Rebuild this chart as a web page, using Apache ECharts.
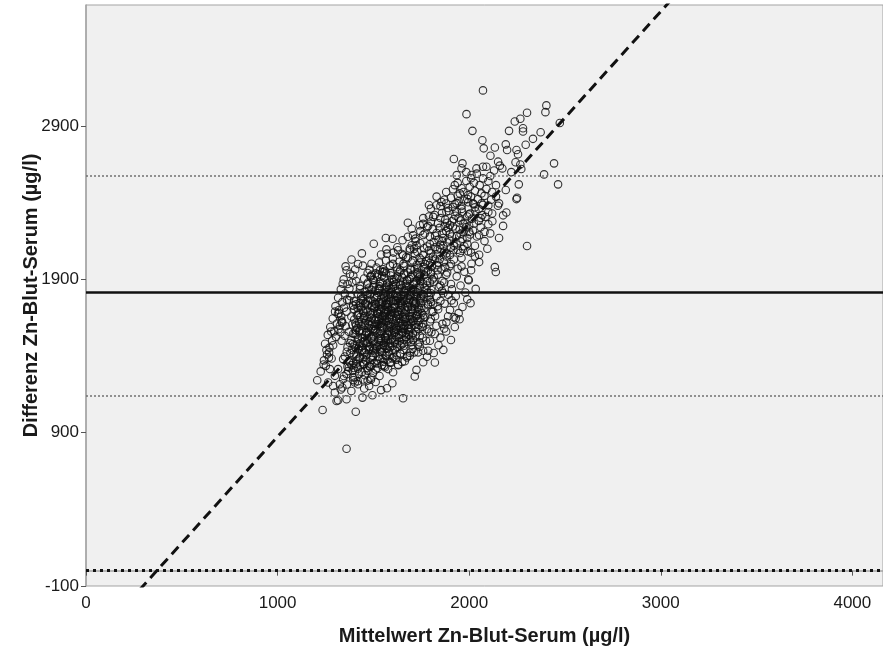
<!DOCTYPE html>
<html>
<head>
<meta charset="utf-8">
<script src="https://cdn.jsdelivr.net/npm/echarts@6/dist/echarts.min.js"></script>
<style>
  html, body { margin: 0; padding: 0; background: #ffffff; }
  #chart { width: 883px; height: 655px; }
</style>
</head>
<body>
<div id="chart"></div>
<script>
// Bland-Altman plot: zinc whole blood vs. serum (µg/l)
const xTicks = [0, 1000, 2000, 3000, 4000];
const yTicks = [-100, 900, 1900, 2900];
const xRange = [0, 4160];
const yRange = [-100, 3690];

// reference lines (µg/l)
const meanDifference = 1815;
const upperLimit = 2578;
const lowerLimit = 1140;
const zeroLine = 0;

// regression of difference on mean
const regressionSlope = 1.387;
const regressionIntercept = -513;

// [mean, difference] per sample
const outerPoints = [
  [2072,3133],[1986,2978],[2017,2869],[2403,3035],[2398,2991],[2302,2987],[2267,2948],[2238,2930],
  [2208,2869],[2281,2886],[2281,2865],[2373,2860],[2473,2920],[2333,2817],[2295,2778],[2069,2808],
  [2076,2755],[2134,2760],[2191,2781],[2198,2744],[2247,2744],[2255,2716],[2111,2707],[1920,2685],
  [1965,2657],[2151,2668],[2160,2642],[2242,2664],[2267,2650],[2443,2657],[2038,2624],[2072,2635],
  [2090,2635],[2173,2624],[2272,2620],[2391,2585],[2464,2520],[2259,2520],[2191,2483],[2250,2433],
  [2156,2396],[2012,2581],[2072,2559],[1925,2515],[2003,2504],[2055,2515],[1951,2461],[1994,2450],
  [2064,2461],[1934,2396],[2020,2396],[2072,2385],[2247,2424],[2121,2279],[2177,2318],[2194,2336],
  [2177,2249],[2156,2170],[2302,2118],[2052,2188],[2052,2061],[2052,2013],[2012,2002],[2134,1980],
  [2139,1948],[1994,2083],[1998,1894],[2034,1838],[2007,1745],[1920,1653],[1930,1646],[1908,1763],
  [1360,795],[1235,1048],[1408,1037],[1308,1107],[1316,1112],[1360,1118],[1299,1162],[1443,1129],
  [1495,1144],[1571,1190],[1599,1223],[1655,1125],[1716,1267],[1725,1310],[1821,1358],[1690,1402],
  [1786,1435],[1577,1315],[1487,1245],[1420,1216],[1403,1227],[1269,1424],[1282,1384],[1252,1336],
  [1273,1315],[1334,1500],[1328,1555],[1334,1620],[1829,1598],[1881,1620],[1803,1555],[1821,1544],
  [1795,1500],[1734,1424],[1760,1435],[1207,1242],[1290,1205],[1325,1216],[1264,1227],[1342,1249],
  [1360,1282],[1394,1260],[1299,1271],[1316,1315],[1377,1358],[1342,1380],[1315,1675],[1325,1598],
  [1502,2133],[1565,2170],[1652,2155],[1568,2096],[1571,2068],[1629,2090],[1490,2002],[1534,1958],
  [1547,1948],[1485,1921],[1502,1894],[1373,1763],[1429,1747],[1394,1730],[1321,1681],[1334,1631],
  [1707,2188],[1768,2199],[1742,2253],[1786,2249],[1812,2308],[1829,2384],[1855,2406],[1881,2341],
  [1690,2101],[1725,2122],[1716,2068],[1655,2057]
];

const lowerCore = [
  [1385,1172],[1452,1188],[1338,1195],[1418,1236],[1478,1205],[1512,1231],[1362,1214],[1446,1247],
  [1540,1178],[1396,1243],[1330,1182],[1470,1240],
  [1402,1262],[1455,1275],[1498,1289],[1368,1302],[1420,1318],[1532,1270],[1561,1327],[1478,1336],
  [1440,1295],[1386,1341],[1512,1312],[1603,1294],[1346,1270],[1425,1283],[1470,1305],[1545,1341],
  [1397,1322],[1630,1340],[1489,1258],[1452,1347],[1365,1331],
  [1372,1366],[1418,1378],[1447,1360],[1486,1392],[1521,1371],[1563,1402],[1598,1385],[1640,1418],
  [1409,1412],[1452,1426],[1499,1437],[1537,1445],[1582,1430],[1620,1376],[1351,1397],[1388,1441],
  [1430,1391],[1466,1409],[1510,1419],[1552,1363],[1675,1391],[1705,1447],[1395,1356],[1476,1445],
  [1528,1396],[1570,1448],[1612,1438],[1650,1362],[1440,1436],[1361,1428],[1491,1374],[1545,1424],
  [1587,1359],[1420,1448],[1690,1422],
  [1365,1458],[1402,1470],[1438,1462],[1471,1488],[1505,1476],[1542,1499],[1578,1465],[1612,1492],
  [1651,1478],[1689,1510],[1720,1534],[1385,1503],[1420,1521],[1456,1535],[1490,1512],[1527,1545],
  [1560,1521],[1597,1539],[1633,1518],[1668,1548],[1350,1532],[1446,1497],[1482,1458],[1518,1463],
  [1556,1487],[1590,1501],[1625,1459],[1660,1505],[1700,1472],[1742,1489],[1412,1540],[1462,1550],
  [1500,1530],[1537,1519],[1573,1544],[1610,1550],[1646,1540],[1378,1485],[1430,1483],[1468,1515],
  [1545,1455],[1585,1483],[1620,1525],[1698,1529],[1757,1520],[1394,1546],[1498,1494],[1534,1532],
  [1566,1504],[1676,1493],
  [1392,1305],[1432,1338],[1468,1322],[1505,1355],[1548,1385],[1585,1410],[1412,1395],[1455,1420],
  [1498,1402],[1538,1430],[1575,1378],[1622,1405],[1658,1440],[1380,1420],[1426,1466],[1462,1440],
  [1505,1450],[1560,1465],[1600,1440],[1642,1470],[1372,1325],[1410,1350],[1445,1385],[1490,1340],
  [1522,1322]
];

const middleCore = [
  [1372,1558],[1408,1570],[1441,1562],[1476,1585],[1509,1574],[1545,1598],[1581,1566],[1618,1592],
  [1652,1578],[1688,1604],[1724,1589],[1760,1612],[1390,1606],[1425,1619],[1460,1632],[1494,1611],
  [1530,1641],[1566,1620],[1600,1637],[1637,1615],[1672,1644],[1708,1628],[1745,1646],[1356,1594],
  [1436,1597],[1470,1556],[1503,1640],[1539,1562],[1572,1649],[1610,1558],[1645,1630],[1682,1560],
  [1715,1648],[1780,1575],[1400,1638],[1455,1604],[1488,1578],[1522,1607],[1556,1584],[1591,1610],
  [1627,1571],[1662,1598],[1697,1582],[1737,1603],[1415,1582],[1450,1646],[1517,1553],[1552,1633],
  [1588,1593],[1622,1645],[1655,1556],[1696,1620],[1338,1620],[1480,1628],[1541,1616],[1575,1600],
  [1634,1598],[1668,1622],[1800,1640],[1480,1600],
  [1385,1658],[1420,1670],[1454,1662],[1489,1686],[1523,1675],[1558,1699],[1592,1666],[1627,1692],
  [1661,1678],[1696,1704],[1731,1689],[1766,1712],[1400,1706],[1436,1719],[1471,1732],[1505,1711],
  [1541,1741],[1576,1720],[1610,1737],[1645,1715],[1680,1744],[1715,1728],[1750,1746],[1786,1731],
  [1360,1690],[1446,1697],[1480,1656],[1514,1740],[1549,1662],[1583,1749],[1618,1658],[1653,1730],
  [1688,1660],[1722,1748],[1812,1690],[1410,1738],[1463,1704],[1497,1678],[1532,1707],[1566,1684],
  [1600,1710],[1636,1671],[1671,1698],[1706,1682],[1741,1703],[1425,1682],[1458,1746],[1526,1653],
  [1560,1733],[1596,1693],[1630,1745],[1665,1656],[1700,1720],[1760,1668],[1490,1728],[1548,1716],
  [1584,1700],[1642,1698],[1676,1722],[1835,1725],[1538,1688],[1612,1680],[1572,1742],[1728,1670],
  [1395,1730],
  [1400,1758],[1437,1770],[1471,1762],[1506,1786],[1540,1775],[1575,1799],[1610,1766],[1644,1792],
  [1679,1778],[1713,1804],[1748,1789],[1783,1812],[1420,1806],[1455,1819],[1490,1832],[1524,1811],
  [1559,1841],[1594,1820],[1628,1837],[1663,1815],[1698,1844],[1732,1828],[1767,1846],[1802,1831],
  [1380,1790],[1465,1797],[1499,1756],[1533,1840],[1568,1762],[1602,1849],[1637,1758],[1672,1830],
  [1707,1760],[1741,1848],[1830,1790],[1430,1838],[1482,1804],[1516,1778],[1551,1807],[1585,1784],
  [1620,1810],[1655,1771],[1690,1798],[1725,1782],[1760,1803],[1445,1782],[1478,1846],[1546,1753],
  [1580,1833],[1615,1793],[1650,1845],[1685,1756],[1720,1820],[1795,1768],[1510,1828],[1566,1816],
  [1603,1800],[1660,1798],[1695,1822],[1858,1825],[1556,1788],[1630,1780],[1590,1842],[1746,1770],
  [1890,1800]
];

const denseCore = [
  [1463,1483],[1497,1455],[1531,1472],[1566,1518],[1601,1466],[1636,1497],[1671,1524],[1706,1505],
  [1742,1461],[1478,1542],[1512,1566],[1548,1589],[1583,1557],[1618,1580],[1653,1608],[1688,1573],
  [1723,1560],[1758,1591],[1455,1615],[1490,1648],[1525,1628],[1560,1660],[1595,1642],[1630,1667],
  [1665,1639],[1700,1659],[1735,1628],[1770,1655],[1470,1690],[1505,1722],[1540,1702],[1575,1735],
  [1610,1715],[1645,1748],[1680,1718],[1715,1742],[1750,1712],[1785,1740],[1485,1768],[1520,1795],
  [1555,1778],[1590,1810],[1625,1788],[1660,1822],[1695,1790],[1730,1815],[1765,1785],[1800,1810],
  [1500,1850],[1535,1872],[1570,1852],[1605,1884],[1640,1860],[1675,1896],[1710,1866],[1745,1889],
  [1780,1860],[1815,1885],[1520,1918],[1555,1948],[1590,1925],[1625,1958],[1660,1930],[1695,1962],
  [1730,1936],[1765,1966],[1800,1935],[1835,1960],[1440,1520],[1425,1560],[1410,1600],[1432,1655],
  [1418,1712],[1446,1760],[1460,1820],[1472,1880],[1492,1930],[1822,1660],[1838,1705],[1850,1760],
  [1865,1810],[1842,1850],[1870,1880],[1885,1945],[1898,1985],[1612,1505],[1577,1535],[1649,1552],
  [1686,1540],[1540,1512],[1505,1598],[1572,1630],[1612,1612],[1678,1602],[1735,1575],[1520,1680],
  [1586,1668],[1652,1690],[1718,1706],[1752,1680],[1548,1750],[1618,1760],[1690,1770],[1742,1758],
  [1800,1752],[1508,1742],[1562,1808],[1635,1820],[1708,1835],[1778,1832],[1528,1835],[1598,1900],
  [1668,1872],[1738,1912],[1808,1900],[1565,1700],[1636,1640],[1600,1580],[1545,1645],[1700,1640],
  [1660,1580],[1590,1760],[1660,1760],[1720,1790],[1580,1860]
];

const blobCentre = [
  [1412,1332],[1447,1348],[1483,1329],[1519,1351],[1556,1336],[1592,1357],[1628,1344],[1664,1366],
  [1425,1384],[1461,1371],[1497,1396],[1533,1382],[1569,1405],[1605,1392],[1641,1414],[1677,1401],
  [1713,1424],[1408,1452],[1444,1439],[1480,1463],[1516,1449],[1552,1472],[1588,1458],[1624,1481],
  [1660,1467],[1696,1490],[1732,1476],[1418,1508],[1454,1495],[1490,1520],[1526,1506],[1562,1529],
  [1598,1515],[1634,1538],[1670,1524],[1706,1547],[1742,1533],[1428,1566],[1464,1553],[1500,1577],
  [1536,1563],[1572,1586],[1608,1572],[1644,1595],[1680,1581],[1716,1604],[1752,1590],[1438,1624],
  [1474,1611],[1510,1635],[1546,1621],[1582,1644],[1618,1630],[1654,1653],[1690,1639],[1726,1662],
  [1762,1648],[1448,1682],[1484,1669],[1520,1693],[1556,1679],[1592,1702],[1628,1688],[1664,1711],
  [1700,1697],[1736,1720],[1458,1740],[1494,1727],[1530,1751],[1566,1737],[1602,1760],[1638,1746],
  [1674,1769],[1710,1755],[1746,1778],[1398,1410],[1392,1478],[1402,1545],[1406,1612],[1414,1668],
  [1427,1730],[1436,1790],[1775,1500],[1790,1560],[1795,1625],[1805,1690],[1812,1738],[1790,1790]
];

const coreEdges = [
  [1242,1372],[1258,1410],[1271,1455],[1248,1480],[1285,1502],[1262,1538],[1296,1561],[1275,1590],
  [1310,1612],[1288,1645],[1320,1700],[1302,1726],[1338,1752],[1316,1780],[1352,1808],[1330,1835],
  [1365,1870],[1345,1900],[1378,1935],[1360,1960],[1290,1470],[1305,1525],[1318,1575],[1332,1660],
  [1347,1715],[1362,1768],[1375,1840],[1390,1880],[1405,1965],[1420,2000],[1255,1440],[1280,1560],
  [1300,1690],[1340,1872],[1386,2030],[1225,1300],[1240,1345],[1268,1390],[1355,1985],[1440,2070],
  [1905,1505],[1880,1560],[1925,1590],[1860,1610],[1945,1680],[1900,1700],[1965,1720],[1872,1742],
  [1930,1790],[1980,1815],[1910,1835],[1955,1860],[1995,1900],[1935,1920],[1975,1950],[2010,1960],
  [1960,2040],[2030,2050],[1850,1520],[1890,1660],[1920,1745],[1870,1580],[1950,1640],[1990,1770],
  [1840,1470],[1815,1420],[1780,1395],[1760,1360],[1865,1440],[1960,1985]
];

const upperCore = [
  [1430,1858],[1468,1870],[1502,1862],[1537,1886],[1572,1875],[1607,1899],[1642,1866],[1676,1892],
  [1711,1878],[1746,1904],[1781,1889],[1816,1912],[1452,1906],[1487,1919],[1522,1932],[1557,1911],
  [1591,1941],[1626,1920],[1661,1937],[1696,1915],[1731,1944],[1766,1928],[1801,1946],[1836,1931],
  [1410,1890],[1497,1897],[1531,1856],[1566,1940],[1601,1862],[1636,1949],[1670,1858],[1705,1930],
  [1740,1860],[1775,1948],[1860,1890],[1545,1925],[1585,1885],[1620,1905],[1655,1880],[1690,1902],
  [1725,1890],[1760,1870],[1795,1880],[1850,1860],[1512,1940],[1680,1945],[1615,1870],[1742,1920],
  [1880,1930],[1470,1942],[1548,1875],[1650,1912],[1715,1870],[1905,1870],[1395,1925],
  [1480,1962],[1516,1978],[1551,1966],[1587,1990],[1622,1979],[1657,2003],[1692,1970],[1727,1996],
  [1762,1982],[1797,2008],[1832,1993],[1867,2016],[1530,2010],[1566,2023],[1601,2036],[1636,2015],
  [1671,2045],[1706,2024],[1741,2041],[1776,2019],[1811,2048],[1846,2032],[1881,2050],[1445,1990],
  [1602,2001],[1640,1960],[1680,2040],[1715,1966],[1750,2028],[1785,1958],[1820,2030],[1855,1965],
  [1905,2000],[1700,2010],[1735,1975],[1770,2000],[1805,1985],[1840,2010],[1875,1980],[1920,2030],
  [1560,1955],[1660,1988],[1745,2010],[1790,2040],[1940,1970]
];

const upperArm = [
  [1540,2062],[1605,2075],[1650,2066],[1690,2090],[1730,2079],[1765,2103],[1800,2070],[1835,2096],
  [1870,2082],[1905,2108],[1940,2093],[1975,2116],[1625,2110],[1700,2123],[1745,2136],[1780,2115],
  [1815,2145],[1850,2124],[1885,2141],[1920,2119],[1955,2148],[1990,2132],[1760,2060],[1795,2130],
  [1830,2064],[1865,2118],[1900,2060],[1935,2128],[2010,2075],[1712,2098],[1848,2100],[1882,2070],
  [1918,2090],[1952,2072],[1790,2090],[1822,2110],[1860,2150],[1720,2150],[2030,2120],[1968,2098],
  [1600,2165],[1680,2178],[1720,2166],[1760,2190],[1795,2179],[1830,2203],[1865,2170],[1900,2196],
  [1935,2182],[1970,2208],[2005,2193],[1745,2215],[1810,2228],[1845,2236],[1880,2215],[1915,2245],
  [1950,2224],[1985,2241],[2020,2219],[1780,2240],[1860,2200],[1895,2160],[1930,2230],[1965,2165],
  [2000,2250],[1822,2185],[1890,2235],[1955,2198],[2040,2180],[2080,2210],[1840,2160],[1910,2180],
  [1990,2170],[2060,2240],[1872,2248],
  [1760,2262],[1800,2278],[1838,2266],[1875,2290],[1910,2279],[1945,2303],[1980,2270],[2015,2296],
  [2050,2282],[2085,2308],[1820,2320],[1858,2333],[1893,2346],[1928,2315],[1963,2341],[1998,2324],
  [2033,2345],[2068,2319],[1900,2255],[1935,2340],[1970,2262],[2005,2330],[1850,2300],[1885,2270],
  [1955,2285],[2025,2265],[2100,2340],[1790,2310],[1920,2292],[1990,2310],
  [1800,2362],[1850,2378],[1890,2366],[1925,2390],[1960,2379],[1995,2403],[2030,2370],[2065,2396],
  [2100,2382],[1870,2420],[1905,2433],[1940,2446],[1975,2415],[2010,2441],[2045,2424],[2080,2445],
  [1960,2360],[1990,2425],[2025,2390],[1880,2395],[1945,2410],[2115,2420],[1830,2440],[2050,2360],
  [1915,2372],
  [1880,2470],[1915,2488],[1960,2495],[2030,2478],[2090,2490],[2120,2470],[1940,2530],[1985,2542],
  [2025,2530],[2100,2540],[2140,2515],[1970,2470],
  [1985,2600],[2040,2590],[2110,2575],[1935,2580],[2130,2610],[2010,2560],[1960,2625],[2220,2600],
  [2080,2150],[2100,2260],[2120,2330],[2140,2440],[2095,2100],[2060,2300],[2150,2380],[2000,2210],
  [2110,2200],[1700,2230],[1680,2270],[1760,2300],[1790,2385]
];

const samples = [].concat(outerPoints, lowerCore, middleCore, denseCore, blobCentre, coreEdges, upperCore, upperArm);

const regressionData = [xRange[0], xRange[1]].map(function (x) {
  return [x, regressionSlope * x + regressionIntercept];
});

const fontFamily = '"Liberation Sans", Arial, Helvetica, sans-serif';
const plainNumber = function (v) { return String(v); };
const chart = echarts.init(document.getElementById('chart'), null, { renderer: 'canvas' });

chart.setOption({
  animation: false,
  backgroundColor: '#ffffff',
  grid: {
    left: 86, right: -1, top: 5, bottom: 69,
    show: true, backgroundColor: '#f0f0f0', borderColor: '#a3a3a3', borderWidth: 1
  },
  xAxis: {
    type: 'value', min: xRange[0], max: xRange[1],
    name: 'Mittelwert Zn-Blut-Serum (µg/l)',
    nameLocation: 'middle', nameGap: 40,
    nameTextStyle: { fontFamily: fontFamily, fontWeight: 'bold', fontSize: 20, color: '#1a1a1a' },
    axisLine: { show: true, lineStyle: { color: '#a3a3a3', width: 1.5 } },
    axisTick: { show: true, length: 5, customValues: xTicks, lineStyle: { color: '#555' } },
    axisLabel: { customValues: xTicks, formatter: plainNumber, fontFamily: fontFamily, fontSize: 17, color: '#1a1a1a', margin: 9 },
    splitLine: { show: false }
  },
  yAxis: {
    type: 'value', min: yRange[0], max: yRange[1],
    name: 'Differenz Zn-Blut-Serum (µg/l)',
    nameLocation: 'middle', nameGap: 45, nameRotate: 90, nameMoveOverlap: false,
    nameTextStyle: { fontFamily: fontFamily, fontWeight: 'bold', fontSize: 20, color: '#1a1a1a' },
    axisLine: { show: true, lineStyle: { color: '#a3a3a3', width: 1.5 } },
    axisTick: { show: true, length: 5, customValues: yTicks, lineStyle: { color: '#555' } },
    axisLabel: { customValues: yTicks, formatter: plainNumber, fontFamily: fontFamily, fontSize: 17, color: '#1a1a1a', margin: 7 },
    splitLine: { show: false }
  },
  series: [
    {
      type: 'scatter',
      data: samples,
      symbol: 'circle',
      symbolSize: 7.5,
      silent: true,
      itemStyle: { color: 'rgba(0,0,0,0)', borderColor: '#111', borderWidth: 1.1, opacity: 0.85 },
      z: 2
    },
    {
      type: 'line',
      data: [],
      silent: true,
      z: 4,
      markLine: {
        silent: true,
        symbol: ['none', 'none'],
        label: { show: false },
        animation: false,
        data: [
          { yAxis: upperLimit, lineStyle: { color: '#707070', width: 1.5, type: [2, 2] } },
          { yAxis: lowerLimit, lineStyle: { color: '#707070', width: 1.5, type: [2, 2] } },
          { yAxis: meanDifference, lineStyle: { color: '#111', width: 2.5, type: 'solid' } },
          { yAxis: zeroLine, lineStyle: { color: '#111', width: 3, type: [3, 4] } }
        ]
      }
    },
    {
      type: 'line',
      data: regressionData,
      silent: true,
      symbol: 'none',
      clip: true,
      z: 5,
      lineStyle: { color: '#111', width: 3, type: [10, 6] }
    }
  ]
});
</script>
</body>
</html>
